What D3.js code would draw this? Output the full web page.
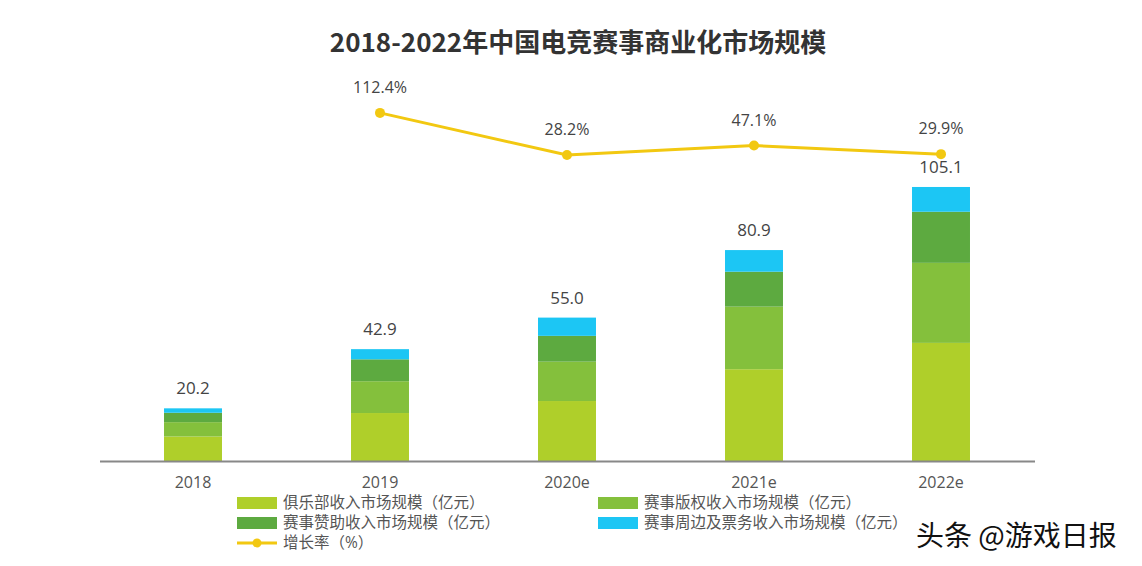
<!DOCTYPE html>
<html><head><meta charset="utf-8">
<script src="https://cdn.jsdelivr.net/npm/d3@7"></script>
<style>
body{margin:0;background:#fff;}
text{font-family:"Open Sans","Noto Sans CJK SC",sans-serif;}
</style></head>
<body><svg id="c" width="1142" height="566"></svg>
<script>
const title = "2018-2022年中国电竞赛事商业化市场规模";
const categories = ["2018","2019","2020e","2021e","2022e"];
const clubRevenue = [9.4, 18.4, 23.0, 35.2, 45.3];
const rightsRevenue = [5.5, 12.2, 15.1, 24.0, 30.7];
const sponsorRevenue = [3.6, 8.4, 9.9, 13.4, 19.6];
const merchTicketRevenue = [1.7, 3.9, 7.0, 8.3, 9.5];
const totals = [20.2, 42.9, 55.0, 80.9, 105.1];
const growthCats = ["2019","2020e","2021e","2022e"];
const growthRate = [112.4, 28.2, 47.1, 29.9];
const seriesNames = ["俱乐部收入市场规模（亿元）","赛事版权收入市场规模（亿元）","赛事赞助收入市场规模（亿元）","赛事周边及票务收入市场规模（亿元）"];
const growthName = "增长率（%）";
const colors = ["#AFCF2A","#84C03C","#5DAA40","#1CC6F4"];
const lineColor = "#F2C811";

const svg = d3.select("#c");
svg.append("rect").attr("width",1142).attr("height",566).attr("fill","#fff");

const x = d3.scaleBand().domain(categories).range([99.5,1034.5]).paddingInner(0.69).paddingOuter(0.345);
const y = d3.scaleLinear().domain([0,110]).range([461,174.2]);
const yg = d3.scaleLinear().domain([0,200]).range([169.1,69.1]);

svg.append("text").attr("x",578).attr("y",52).attr("text-anchor","middle")
  .attr("font-size",26).attr("font-weight","bold").attr("fill","#333")
  .style("font-family","'Noto Sans CJK SC',sans-serif").text(title);

const rows = categories.map((c,i)=>({cat:c, s0:clubRevenue[i], s1:rightsRevenue[i], s2:sponsorRevenue[i], s3:merchTicketRevenue[i]}));
const stack = d3.stack().keys(["s0","s1","s2","s3"])(rows);
stack.forEach((layer,k)=>{
  svg.append("g").selectAll("rect").data(layer).join("rect")
    .attr("x",d=>x(d.data.cat)).attr("width",x.bandwidth())
    .attr("y",d=>y(d[1])).attr("height",d=>y(d[0])-y(d[1]))
    .attr("fill",colors[k]);
});

// axis
const ax = svg.append("g").attr("transform","translate(0,461)")
  .call(d3.axisBottom(x).tickSize(0).tickPadding(16));
ax.select(".domain").attr("stroke","#888").attr("stroke-width",2);
ax.selectAll("text").attr("font-size",16).attr("fill","#555").style("font-family","'Open Sans',sans-serif");

// totals
svg.append("g").selectAll("text").data(totals).join("text")
  .attr("x",(d,i)=>x(categories[i])+x.bandwidth()/2).attr("y",d=>y(d)-14)
  .attr("text-anchor","middle").attr("font-size",17).attr("fill","#444").text(d=>d.toFixed(1));

// growth line
const gx = c=>x(c)+x.bandwidth()/2;
svg.append("path").datum(growthRate)
  .attr("d",d3.line().x((d,i)=>gx(growthCats[i])).y(d=>yg(d)))
  .attr("fill","none").attr("stroke",lineColor).attr("stroke-width",3);
svg.append("g").selectAll("circle").data(growthRate).join("circle")
  .attr("cx",(d,i)=>gx(growthCats[i])).attr("cy",d=>yg(d)).attr("r",5).attr("fill",lineColor);
svg.append("g").selectAll("text").data(growthRate).join("text")
  .attr("x",(d,i)=>gx(growthCats[i])).attr("y",d=>yg(d)-20)
  .attr("text-anchor","middle").attr("font-size",16).attr("fill","#444").text(d=>d.toFixed(1)+"%");

// legend
const leg = svg.append("g").style("font-family","'Noto Sans CJK SC',sans-serif");
const legPos = [[237,503],[598,503],[237,523],[598,523]];
seriesNames.forEach((n,i)=>{
  const [lx,ly]=legPos[i];
  leg.append("rect").attr("x",lx).attr("y",ly-6).attr("width",40).attr("height",12).attr("fill",colors[i]);
  leg.append("text").attr("x",lx+46).attr("y",ly).attr("dy","0.35em").attr("font-size",15.5).attr("fill","#555").text(n);
});
leg.append("line").attr("x1",237).attr("x2",277).attr("y1",543).attr("y2",543).attr("stroke",lineColor).attr("stroke-width",3);
leg.append("circle").attr("cx",257).attr("cy",543).attr("r",4.5).attr("fill",lineColor);
leg.append("text").attr("x",283).attr("y",543).attr("dy","0.35em").attr("font-size",15.5).attr("fill","#555").text(growthName);

// watermark
svg.append("text").attr("x",916).attr("y",546).attr("font-size",28)
  .style("font-family","'Noto Sans CJK SC',sans-serif")
  .attr("fill","#111").attr("stroke","#fff").attr("stroke-width",4).attr("paint-order","stroke")
  .text("头条 @游戏日报");
</script></body></html>
